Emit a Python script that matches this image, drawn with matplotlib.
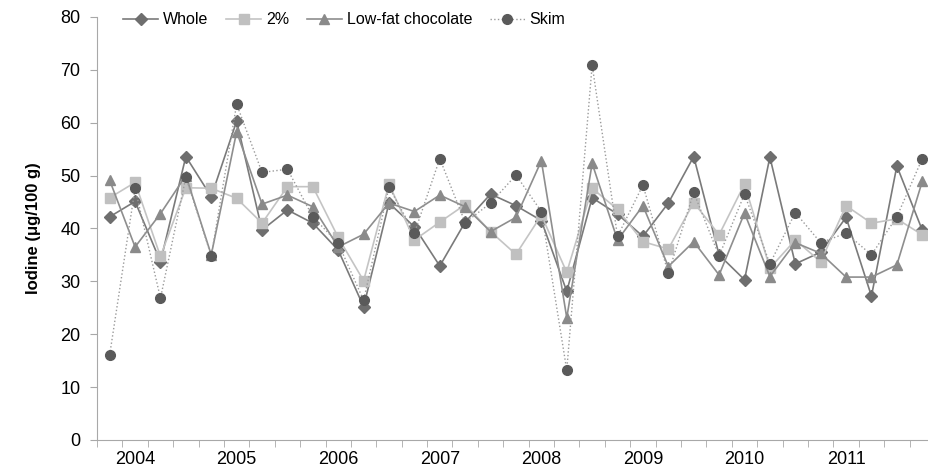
import matplotlib
matplotlib.use("Agg")
import matplotlib.pyplot as plt
import numpy as np

plt.rcParams['font.family'] = ['Liberation Sans', 'DejaVu Sans']

# quarterly samples, Q4 2003 .. Q4 2011
years = ["2004", "2005", "2006", "2007", "2008", "2009", "2010", "2011"]

whole = [42.2, 45.1, 33.7, 53.6, 46.0, 60.3, 39.7, 43.5, 41.0, 35.9, 25.2,
         44.8, 40.3, 32.9, 41.2, 46.5, 44.3, 41.5, 28.1, 45.8, 42.7, 38.5,
         44.8, 53.6, 35.0, 30.3, 53.5, 33.3, 35.5, 42.1, 27.2, 51.8, 39.7]
two_pct = [45.8, 48.7, 34.7, 47.7, 47.6, 45.7, 41.0, 47.9, 47.9, 38.3, 30.1,
           48.4, 37.8, 41.2, 44.5, 39.4, 35.1, 42.5, 31.7, 47.6, 43.6, 37.5,
           36.1, 44.9, 38.8, 48.4, 32.5, 37.8, 33.7, 44.3, 41.0, 41.8, 38.8]
lowfat_choc = [49.1, 36.5, 42.8, 50.0, 35.0, 58.3, 44.6, 46.3, 44.1, 36.5, 38.9,
               44.8, 43.2, 46.3, 44.1, 39.4, 42.1, 52.8, 23.1, 52.3, 37.8, 44.3,
               32.8, 37.5, 31.2, 42.9, 30.9, 37.3, 35.3, 30.8, 30.8, 33.1, 48.9]
skim = [16.1, 47.6, 26.8, 49.7, 34.8, 63.5, 50.6, 51.2, 42.2, 37.2, 26.4,
        47.8, 39.1, 53.2, 41.1, 44.8, 50.1, 43.2, 13.2, 70.9, 38.5, 48.2,
        31.5, 46.8, 34.8, 46.5, 33.3, 43.0, 37.3, 39.1, 35.0, 42.2, 53.2]

x = np.arange(len(whole))

fig = plt.figure(figsize=(9.29, 4.71), dpi=100)
ax = fig.add_axes([0.1044, 0.066, 0.902, 0.898])

ax.plot(x, whole, color='#7a7a7a', lw=1.2, marker='D', ms=6,
        mfc='#6e6e6e', mec='#6e6e6e', label='Whole')
ax.plot(x, two_pct, color='#c4c4c4', lw=1.2, marker='s', ms=6.5,
        mfc='#c0c0c0', mec='#c0c0c0', label='2%')
ax.plot(x, lowfat_choc, color='#8e8e8e', lw=1.2, marker='^', ms=7,
        mfc='#8a8a8a', mec='#8a8a8a', label='Low-fat chocolate')
ax.plot(x, skim, color='#9a9a9a', lw=1.0, ls=':', marker='o', ms=7,
        mfc='#5a5a5a', mec='#5a5a5a', label='Skim')

ax.set_xlim(-0.5, len(x) - 0.5)
ax.set_ylim(0, 80)
ax.set_yticks(range(0, 81, 10))

# year labels sit under the first quarter of each year, ticks between quarters
ax.set_xticks(np.arange(1, len(x), 4))
ax.set_xticklabels(years)
ax.set_xticks(np.arange(-0.5, len(x), 1), minor=True)
ax.tick_params(axis='x', which='major', length=0, pad=8, labelsize=13)
ax.tick_params(axis='x', which='minor', length=5, color='#a8a8a8')
ax.tick_params(axis='y', length=5, color='#a8a8a8', labelsize=13, pad=7)

for s in ['top', 'right']:
    ax.spines[s].set_visible(False)
for s in ['left', 'bottom']:
    ax.spines[s].set_color('#a8a8a8')

ax.set_ylabel('Iodine (μg/100 g)', fontweight='bold', fontsize=12, labelpad=14)

ax.legend(loc='upper left', bbox_to_anchor=(0.014, 1.045), ncol=4, frameon=False,
          fontsize=11.5, handlelength=2.2, columnspacing=1.1, handletextpad=0.3)

fig.savefig('out.png', dpi=100)
